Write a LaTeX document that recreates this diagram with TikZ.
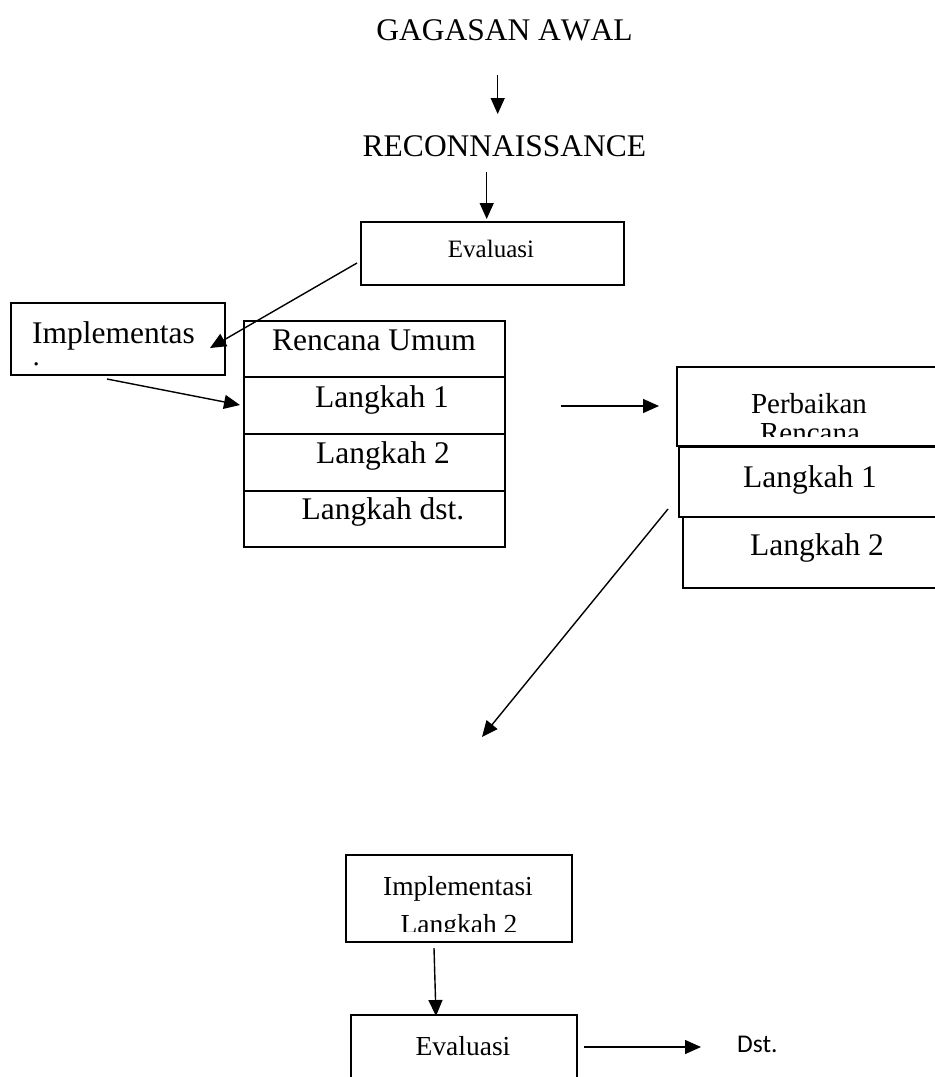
\documentclass[tikz,border=0pt]{standalone}
\usepackage{fontspec}
\setmainfont[Kerning=Off]{Liberation Serif}
\newfontfamily\calfont{Carlito}
\usetikzlibrary{arrows.meta}
\tikzset{
  boxstyle/.style={draw=black, line width=1.5pt, inner sep=0pt, fill=none},
  conn/.style={line width=1.4pt, -{Triangle[length=16pt,width=14pt]}},
  big/.style={font=\fontsize{31.5}{36}\selectfont, inner sep=0pt, anchor=base},
  mid/.style={font=\fontsize{29}{33}\selectfont, inner sep=0pt, anchor=base},
  smalltxt/.style={font=\fontsize{27.5}{32}\selectfont, inner sep=0pt, anchor=base},
  tiny/.style={font=\fontsize{25}{29}\selectfont, inner sep=0pt, anchor=base},
}
\begin{document}
\begin{tikzpicture}[x=1pt,y=-1pt]
\useasboundingbox (0,0) rectangle (935,1077);
\clip (0,0) rectangle (935,1077);

% titles
\node[big] (gag) at (504.5,40.7) {GAGASAN AWAL};
\node[big] (rec) at (504.5,156) {RECONNAISSANCE};

% top evaluasi box
\draw[boxstyle] (361,222) rectangle (624,285);
\node[tiny] (evtop) at (491,257) {Evaluasi};

% implementasi box (left)
\draw[boxstyle] (11,303) rectangle (225,375);
\begin{scope}
\clip (11,303) rectangle (225,367);
\node[big, anchor=base west] (impl) at (32,343) {Implementas};
\node[big, anchor=base west] (impli) at (32,383) {i};
\end{scope}

% rencana table
\draw[boxstyle] (244,321) rectangle (505,547);
\draw[boxstyle] (244,377) -- (505,377);
\draw[boxstyle] (244,434) -- (505,434);
\draw[boxstyle] (244,491) -- (505,491);
\node[big] (ru) at (374,350) {Rencana Umum};
\node[big] (lk1) at (382,407) {Langkah 1};
\node[big] (lk2) at (383,463) {Langkah 2};
\node[big] (lkd) at (383,519) {Langkah dst.};

% perbaikan rencana (right)
\draw[boxstyle] (677,367) rectangle (960,446);
\begin{scope}
\clip (677,367) rectangle (960,436.5);
\node[mid] (perb) at (809,413) {Perbaikan};
\node[mid] (perbr) at (810,442) {Rencana};
\end{scope}
\draw[boxstyle] (679,447.5) rectangle (960,517);
\node[big] (rl1) at (810,487) {Langkah 1};
\draw[boxstyle] (683,517) rectangle (960,588);
\node[big] (rl2) at (817,555) {Langkah 2};

% implementasi langkah 2
\draw[boxstyle] (346,855) rectangle (572,942);
\begin{scope}
\clip (346,855) rectangle (572,931);
\node[smalltxt] (imp2) at (458,895) {Implementasi};
\node[smalltxt] (imp2b) at (459,933.5) {Langkah 2};
\end{scope}

% evaluasi bottom
\draw[boxstyle] (351,1015) rectangle (577,1110);
\node[smalltxt] (evbot) at (463,1055) {Evaluasi};

% Dst.
\node[font=\calfont\fontsize{25.5}{30}\selectfont, inner sep=0pt, anchor=base west] (dst) at (737,1052) {Dst.};

% connector end points
\coordinate (a1s) at (497.7,75);   \coordinate (a1e) at (497.7,114);
\coordinate (a2s) at (486.7,172);  \coordinate (a2e) at (486.7,219);
\coordinate (a3s) at (357,263);    \coordinate (a3e) at (210,348);
\coordinate (a4s) at (107,379);    \coordinate (a4e) at (240,405);
\coordinate (a5s) at (561,406);    \coordinate (a5e) at (659,406);
\coordinate (a6s) at (668,509);    \coordinate (a6e) at (482,737);
\coordinate (a7s) at (434,948);    \coordinate (a7e) at (436,1016);
\coordinate (a8s) at (584,1047);   \coordinate (a8e) at (701,1047);

\draw[conn] (a1s) -- (a1e);
\draw[conn] (a2s) -- (a2e);
\draw[conn] (a3s) -- (a3e);
\draw[conn] (a4s) -- (a4e);
\draw[conn] (a5s) -- (a5e);
\draw[conn] (a6s) -- (a6e);
\draw[conn] (a7s) -- (a7e);
\draw[conn] (a8s) -- (a8e);
\end{tikzpicture}
\end{document}
